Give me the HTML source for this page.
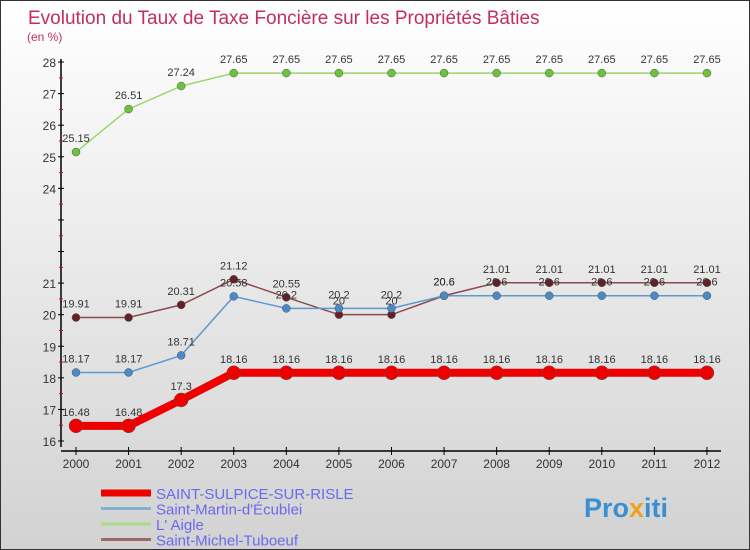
<!DOCTYPE html>
<html><head><meta charset="utf-8"><style>
body{margin:0;}
#c{width:750px;height:550px;position:relative;overflow:hidden;background:linear-gradient(#ffffff,#d2d2d2);box-sizing:border-box;border:1px solid #333;font-family:"Liberation Sans",sans-serif;}
svg text{font-family:"Liberation Sans",sans-serif;}
</style></head><body>
<div id="c">
<svg id="s" width="750" height="550">
<text x="27" y="23" font-size="19" fill="#c0305a">Evolution du Taux de Taxe Foncière sur les Propriétés Bâties</text>
<text x="26" y="40" font-size="12" fill="#c0305a">(en %)</text>
<g id="axes"></g><g id="series"></g><g id="legend"></g>
<text x="583" y="516" font-size="27" font-weight="bold" fill="#3a8fd0">Pro<tspan fill="#f0a020">x</tspan>iti</text>
</svg>
</div>
<script>
const years=[2000,2001,2002,2003,2004,2005,2006,2007,2008,2009,2010,2011,2012];
const yTicks=[16,17,18,19,20,21,22,23,24,25,26,27,28];
const yTickLabels=["16","17","18","19","20","21","","","24","25","26","27","28"];
const sSulpice=[16.48,16.48,17.3,18.16,18.16,18.16,18.16,18.16,18.16,18.16,18.16,18.16,18.16];
const sMartin=[18.17,18.17,18.71,20.58,20.2,20.2,20.2,20.6,20.6,20.6,20.6,20.6,20.6];
const sAigle=[25.15,26.51,27.24,27.65,27.65,27.65,27.65,27.65,27.65,27.65,27.65,27.65,27.65];
const sMichel=[19.91,19.91,20.31,21.12,20.55,20,20,20.6,21.01,21.01,21.01,21.01,21.01];
const names=["SAINT-SULPICE-SUR-RISLE","Saint-Martin-d'Écublei","L' Aigle","Saint-Michel-Tuboeuf"];
const NS="http://www.w3.org/2000/svg";
const X=i=>75+i*52.58, Y=v=>440-(v-16)*31.58;
function mk(tag,attrs,parent){const e=document.createElementNS(NS,tag);for(const k in attrs)e.setAttribute(k,attrs[k]);parent.appendChild(e);return e;}
const ax=document.getElementById('axes'),sg=document.getElementById('series'),lg=document.getElementById('legend');
let e=mk('line',{x1:60,y1:58,x2:60,y2:446,stroke:'#000','stroke-width':1.5},ax);

e=mk('line',{x1:60,y1:450,x2:720,y2:450,stroke:'#000','stroke-width':1.5},ax);

yTicks.forEach((v,i)=>{mk('line',{x1:57,y1:Y(v),x2:63,y2:Y(v),stroke:'#000'},ax);
 if(i<yTicks.length-1)mk('line',{x1:58,y1:Y(v+0.5),x2:62,y2:Y(v+0.5),stroke:'#e00'},ax);
 const t=mk('text',{x:55,y:Y(v)+5,'font-size':12,fill:'#333','text-anchor':'end'},ax);t.textContent=yTickLabels[i];
 });
years.forEach((yr,i)=>{mk('line',{x1:X(i),y1:446,x2:X(i),y2:454,stroke:'#000'},ax);
 const t=mk('text',{x:X(i),y:467,'font-size':12,fill:'#333','text-anchor':'middle'},ax);t.textContent=yr;
 });
const defs=[[sAigle,'#9ad66a','#6cc23a',1.5,4],[sMichel,'#8a4a50','#6a1f28',1.5,4],[sMartin,'#5c9ad0','#4a8ac8',1.5,4],[sSulpice,'#ee0000','#ee0000',8,7]];
const keys=['laigle','michel','martin','sulpice'];
defs.forEach((d,k)=>{const [vals,lc,pc,w,r]=d;
 const p=mk('polyline',{points:vals.map((v,i)=>X(i)+','+Y(v)).join(' '),fill:'none',stroke:lc,'stroke-width':w},sg);
 
 vals.forEach((v,i)=>{const c=mk('circle',{cx:X(i),cy:Y(v),r:r,fill:pc,stroke:'#555','stroke-width':0.5},sg);
  
  const t=mk('text',{x:X(i),y:Y(v)-10,'font-size':11,fill:'#333','text-anchor':'middle'},sg);t.textContent=v;
  });});
const lcol=['#ee0000','#80b0d8','#a8dc88','#9a6a6a'],lw=[7,3,3,3];
names.forEach((n,i)=>{const y=492+i*15.5;
 const l=mk('line',{x1:100,y1:y,x2:150,y2:y,stroke:lcol[i],'stroke-width':lw[i]},lg);
 
 const t=mk('text',{x:155,y:y+6,'font-size':15,fill:'#6a6aee'},lg);t.textContent=n;
 });
</script>
</body></html>
